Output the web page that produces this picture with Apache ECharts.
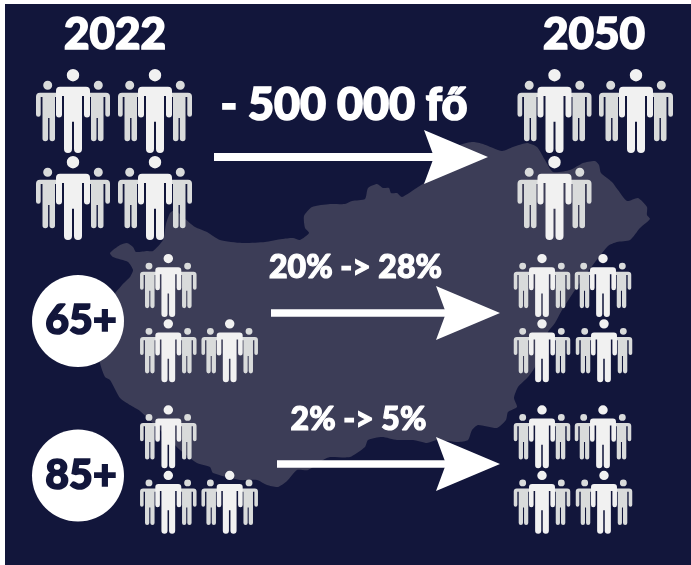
<!DOCTYPE html>
<html>
<head>
<meta charset="utf-8">
<style>html,body{margin:0;padding:0;background:#fff}#chart{width:691px;height:565px}</style>
<script src="https://cdn.jsdelivr.net/npm/echarts@6/dist/echarts.min.js"></script>
</head>
<body>
<div id="chart"></div>
<script>
// Icon counts: one icon per unit of population in each panel
const periods = ['2022', '2050'];
const ageGroups = ['65+', '85+'];
const populationIcons = [4, 3];
const age65Icons = [3, 4];
const age85Icons = [3, 4];

// Captions
const populationChange = '- 500 000 fő';
const age65Change = '20% -> 28%';
const age85Change = '2% -> 5%';

// Colours
const NAVY = '#12163b';
const LAND = '#3c3d57';
const WHITE = '#ffffff';
const FRONT = '#f1f1f1';
const BACK = '#d9dbdb';
const FONT = 'Lato';

// Axis units equal page pixels, so the layout below reads directly
const PANEL_LEFT = 5, PANEL_TOP = 4, PAGE_W = 691, PAGE_H = 565;

// Icon glyphs, designed on a 74 x 84 frame
const FRAME_W = 74, FRAME_H = 84;
const FRONT_W = 34, BACK_H = 60.6;
const frontFigure = 'path://M37 0A6.2 6.2 0 1 1 37 12.4A6.2 6.2 0 1 1 37 0Z' +
  'M24 17.7H50Q54 17.7 54 21.7V45.5Q54 48.5 51 48.5Q48 48.5 48 45.5V27H46V80Q46 84 42 84Q38 84 38 80V52.7H36V80Q36 84 32 84Q28 84 28 80V27H26V45.5Q26 48.5 23 48.5Q20 48.5 20 45.5V21.7Q20 17.7 24 17.7Z';
const backFigures = 'path://M11.7 11.7A4.5 4.5 0 1 1 11.7 20.7A4.5 4.5 0 1 1 11.7 11.7Z' +
  'M4 23.7H24V28H19V69.5Q19 72.3 16.2 72.3Q13.5 72.3 13.5 69.5V49H12.1V69.5Q12.1 72.3 9.3 72.3Q6.5 72.3 6.5 69.5V28H4.7V45.5Q4.7 47.8 2.35 47.8Q0 47.8 0 45.5V27.7Q0 23.7 4 23.7Z' +
  'M62.3 11.7A4.5 4.5 0 1 1 62.3 20.7A4.5 4.5 0 1 1 62.3 11.7Z' +
  'M70 23.7H50V28H55V69.5Q55 72.3 57.8 72.3Q60.5 72.3 60.5 69.5V49H61.9V69.5Q61.9 72.3 64.7 72.3Q67.5 72.3 67.5 69.5V28H69.3V45.5Q69.3 47.8 71.65 47.8Q74 47.8 74 45.5V27.7Q74 23.7 70 23.7Z';
const arrowHead = 'path://M0 0L64 27L0 54L10 27Z';

// Country silhouette behind the arrows
const countryOutline = [
  [110,253],[120,245],[127,243],[133,247],[136,252],[147,251],[153,251],[163,240],[166,224],[170,213],[175,210],
  [183,217],[195,227],[207,232],[220,240],[242,243],[265,242],[282,239],[293,238],[300,240],[309,233],[305,228],
  [304,216],[312,207],[330,204],[345,204],[352,201],[365,199],[368,188],[377,184],[383,188],[389,188],[391,193],
  [397,193],[402,197],[418,187],[424,183],[440,165],[460,145],[473,142],[483,144],[502,151],[513,147],[527,143],
  [537,147],[545,160],[553,172],[570,170],[583,163],[595,161],[599,165],[601,173],[612,182],[618,190],[627,201],
  [638,198],[647,207],[647,215],[650,219],[640,228],[630,240],[617,242],[608,246],[587,273],[575,290],[562,310],
  [555,323],[548,332],[535,367],[528,377],[518,387],[514,398],[517,407],[508,412],[506,420],[497,428],[478,425],
  [472,430],[468,440],[458,442],[437,440],[427,443],[413,440],[397,440],[382,437],[368,440],[365,447],[350,457],
  [330,457],[323,460],[308,470],[297,470],[287,481],[278,487],[267,485],[257,480],[240,480],[213,473],[210,467],
  [197,463],[180,450],[160,430],[140,411],[130,405],[120,398],[110,380],[105,377],[100,363],[95,320],[122,285],
  [130,277],[133,270],[128,262],[113,257]
];

// Where each block of icons sits: column centres per row, row centres, fill order as [row, col]
const TOP_DOWN = [[0,0],[0,1],[1,0],[1,1]];
const BOTTOM_UP = [[1,0],[1,1],[0,0],[0,1]];
const iconBlocks = [
  {count: populationIcons[0], w: 74, h: 84, cols: [[73,155],[73,155]], rows: [111,198], order: TOP_DOWN},
  {count: populationIcons[1], w: 74, h: 84, cols: [[554.5,636],[554.5,636]], rows: [111,198], order: TOP_DOWN},
  {count: age65Icons[0], w: 56.5, h: 63, cols: [[168.3,229.7],[168.3,229.7]], rows: [285.4,350.7], order: BOTTOM_UP},
  {count: age65Icons[1], w: 56.5, h: 63, cols: [[542,603],[542,604]], rows: [285.4,350.7], order: BOTTOM_UP},
  {count: age85Icons[0], w: 56.5, h: 63, cols: [[168.3,229.7],[168.3,229.7]], rows: [436.8,502.3], order: BOTTOM_UP},
  {count: age85Icons[1], w: 56.5, h: 63, cols: [[542,603],[542,604]], rows: [436.8,502.3], order: BOTTOM_UP}
];

const frontItems = [], backItems = [];
iconBlocks.forEach(b => {
  b.order.slice(0, b.count).forEach(([r, c]) => {
    const at = [b.cols[r][c], b.rows[r]];
    frontItems.push({value: at, symbolSize: [b.w * FRONT_W / FRAME_W, b.h]});
    backItems.push({value: at, symbolSize: [b.w, b.h * BACK_H / FRAME_H]});
  });
});

// Arrow shafts and heads
const arrowRoutes = [
  {from: 214, to: 436, y: 157, width: 8.2, head: 424},
  {from: 271, to: 448, y: 313, width: 7.6, head: 436},
  {from: 277, to: 448, y: 464, width: 7.6, head: 436}
];
const shaftSeries = arrowRoutes.map(a => ({
  type: 'line', silent: true, showSymbol: false, animation: false, z: 3,
  data: [[a.from, a.y], [a.to, a.y]],
  lineStyle: {color: WHITE, width: a.width, cap: 'butt'}
}));

// Text placed on the same axes
const captions = [
  {text: periods[0], at: [115, 34.5], size: 44, stroke: 1.6},
  {text: periods[1], at: [594, 34.5], size: 44, stroke: 1.6},
  {text: populationChange, at: [344, 105], size: 45, stroke: 1.6},
  {text: age65Change, at: [355.5, 268], size: 32, stroke: 1.2},
  {text: age85Change, at: [358.5, 420], size: 32, stroke: 1.2}
];
const badges = [
  {text: ageGroups[0], at: [78, 321]},
  {text: ageGroups[1], at: [78, 475.5]}
];

const chart = echarts.init(document.getElementById('chart'), null, {renderer: 'canvas'});
chart.setOption({
  animation: false,
  backgroundColor: WHITE,
  tooltip: {show: false},
  grid: {left: PANEL_LEFT, top: PANEL_TOP, right: 0, bottom: 0, show: true, backgroundColor: NAVY, borderWidth: 0},
  xAxis: {type: 'value', min: PANEL_LEFT, max: PAGE_W, show: false},
  yAxis: {type: 'value', min: PANEL_TOP, max: PAGE_H, inverse: true, show: false},
  series: [
    {
      type: 'custom', silent: true, z: 1, coordinateSystem: 'cartesian2d',
      data: [[0, 0]],
      renderItem: (params, api) => ({
        type: 'polygon',
        shape: {points: countryOutline.map(p => api.coord(p)), smooth: 0.2},
        style: {fill: LAND}
      })
    },
    ...shaftSeries,
    {
      type: 'scatter', silent: true, z: 3, symbol: arrowHead, symbolSize: [64, 54],
      data: arrowRoutes.map(a => [a.head + 32, a.y]),
      itemStyle: {color: WHITE, opacity: 1}
    },
    {
      type: 'scatter', silent: true, z: 4, symbol: backFigures,
      data: backItems, itemStyle: {color: BACK, opacity: 1}
    },
    {
      type: 'scatter', silent: true, z: 5, symbol: frontFigure,
      data: frontItems, itemStyle: {color: FRONT, opacity: 1}
    },
    {
      type: 'scatter', silent: true, z: 6, symbol: 'circle', symbolSize: 92,
      data: badges.map(b => ({value: b.at, name: b.text})),
      itemStyle: {color: WHITE, opacity: 1},
      label: {show: true, position: 'inside', offset: [3, 0], formatter: '{b}', color: NAVY,
        textBorderColor: NAVY, textBorderWidth: 1.6,
        fontFamily: FONT, fontWeight: 900, fontSize: 41}
    },
    {
      type: 'scatter', silent: true, z: 7, symbol: 'circle', symbolSize: 1,
      data: captions.map(c => ({
        value: c.at, name: c.text,
        label: {fontSize: c.size, textBorderWidth: c.stroke}
      })),
      itemStyle: {color: 'rgba(0,0,0,0)', opacity: 1},
      label: {show: true, position: 'inside', formatter: '{b}', color: WHITE,
        textBorderColor: WHITE,
        fontFamily: FONT, fontWeight: 900}
    }
  ]
});
</script>
</body>
</html>
